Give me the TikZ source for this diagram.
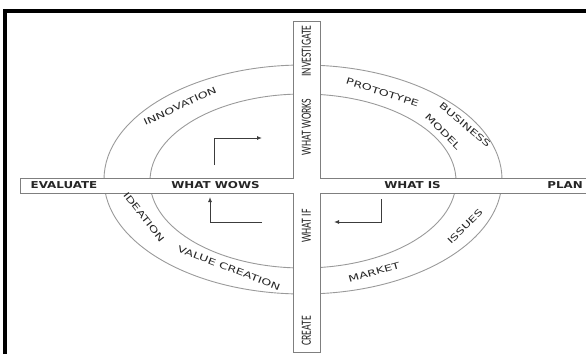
\documentclass[tikz,border=0pt]{standalone}
\usepackage{fontspec}
\usetikzlibrary{arrows.meta}
\newfontfamily\barfont[FakeStretch=1.25]{DejaVu Sans Bold}
\newfontfamily\bandfont[FakeStretch=1.45]{DejaVu Sans}
\newfontfamily\postfont[FakeStretch=0.7]{Carlito}
\definecolor{ringgray}{HTML}{9A9A9A}
\definecolor{bargray}{HTML}{7F7F7F}
\definecolor{inkgray}{HTML}{262626}

\begin{document}
\begin{tikzpicture}[x=1pt, y=-1pt]
    \tikzstyle{hlbl} += [inner sep=0pt, text=inkgray, font=\barfont\fontsize{9.5}{10}\selectfont];
    \tikzstyle{vlbl} += [inner sep=0pt, text=inkgray, rotate=90, font=\postfont\fontsize{14}{15}\selectfont];
    \tikzstyle{blbl} += [inner sep=0pt, text=inkgray, font=\bandfont\fontsize{8.8}{9}\selectfont];
    \tikzstyle{flow} += [draw=inkgray!90, line width=0.9pt, -{Latex[length=5pt, width=4pt]}];
    \useasboundingbox (0,0) rectangle (586,354);

    % frame, cut by the page on the right and at the bottom
    \draw[line width=4pt] (5,354) -- (5,11) -- (586,11);

    % rings
    \draw[ringgray, line width=0.9pt] (303,179.5) ellipse [x radius=199, y radius=114.5];
    \draw[ringgray, line width=0.9pt] (303,181) ellipse [x radius=153, y radius=87];

    % cross of bars
    \fill[white] (293,21) rectangle (320,352);
    \fill[white] (20,178) rectangle (590,193);
    \draw[bargray, line width=1pt] (590,193) -- (320,193) -- (320,352) -- (293,352)
        -- (293,193) -- (20,193) -- (20,178) -- (293,178) -- (293,21) -- (320,21)
        -- (320,178) -- (590,178);

    % labels on the bars
    \node (evaluate) at ( 64,185.5) [hlbl] {EVALUATE};
    \node (wows)     at (215.5,185.5) [hlbl] {WHAT WOWS};
    \node (whatis)   at (412.5,185.5) [hlbl] {WHAT IS};
    \node (plan)     at (565,185.5) [hlbl] {PLAN};
    \node (invest)   at (306.5, 51) [vlbl] {INVESTIGATE};
    \node (works)    at (306.5,127) [vlbl] {WHAT WORKS};
    \node (whatif)   at (306.5,226) [vlbl] {WHAT IF};
    \node (create)   at (306.5,331) [vlbl] {CREATE};

    % labels in the band
    \node (innov)    at (180,106)   [blbl, rotate=25]  {INNOVATION};
    \node (proto)    at (382.5,92.5) [blbl, rotate=-18] {PROTOTYPE};
    \node (business) at (465,125)   [blbl, rotate=-40] {BUSINESS};
    \node (model)    at (443,132)   [blbl, rotate=-45] {MODEL};
    \node (ideation) at (144,217)   [blbl, rotate=-52] {IDEATION};
    \node (value)    at (229,268)   [blbl, rotate=-21] {VALUE CREATION};
    \node (market)   at (374,272.5) [blbl, rotate=16]  {MARKET};
    \node (issues)   at (465,226.5) [blbl, rotate=45]  {ISSUES};

    % turning arrows
    \coordinate (tl_a) at (214,165);
    \coordinate (tl_b) at (214,138);
    \coordinate (tl_c) at (262,138);
    \coordinate (bl_a) at (262,222.5);
    \coordinate (bl_b) at (210,222.5);
    \coordinate (bl_c) at (210,197);
    \coordinate (br_a) at (381,199);
    \coordinate (br_b) at (381,222);
    \coordinate (br_c) at (334,222);
    \draw[flow] (tl_a) -- (tl_b) -- (tl_c);
    \draw[flow] (bl_a) -- (bl_b) -- (bl_c);
    \draw[flow] (br_a) -- (br_b) -- (br_c);
\end{tikzpicture}
\end{document}
